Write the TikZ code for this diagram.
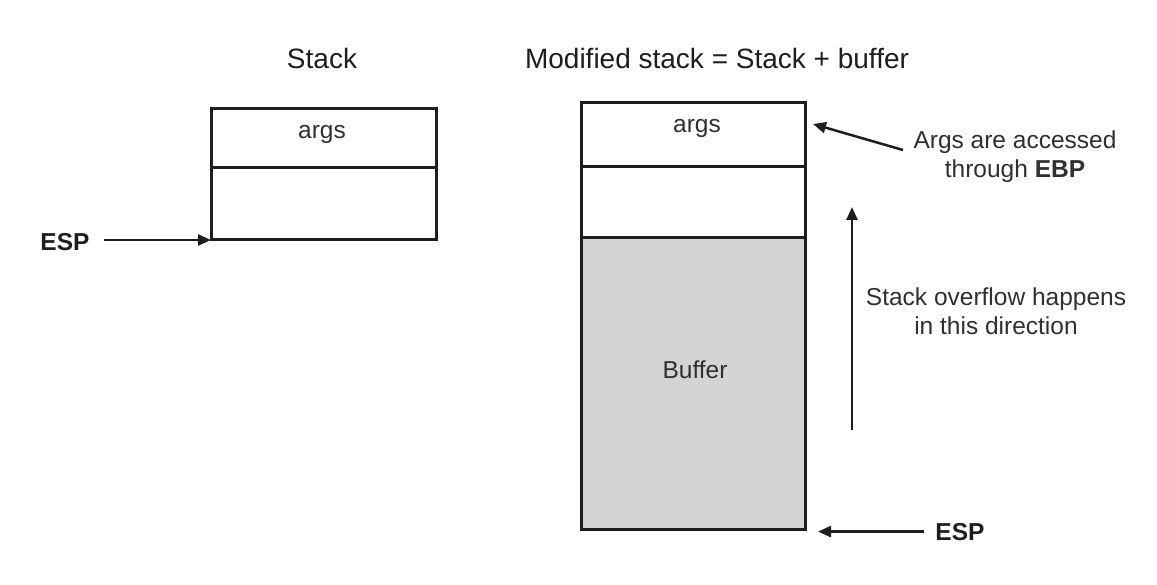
\documentclass[tikz,border=0pt]{standalone}
\usepackage{fontspec}
\setmainfont{Liberation Sans}
\usetikzlibrary{arrows.meta}
\definecolor{bufgray}{HTML}{D4D4D4}
\definecolor{ink}{HTML}{1E1E1E}
\definecolor{txt}{HTML}{303030}
\begin{document}
\begin{tikzpicture}[x=1pt,y=-1pt,
  cell/.style={draw=ink, line width=3pt, minimum width=225pt, inner sep=0pt, outer sep=0pt},
  lbl/.style={font=\fontsize{24.5}{29}\selectfont, text=txt, inner sep=0pt, anchor=base},
  note/.style={font=\fontsize{24.5}{29}\selectfont, text=txt, inner sep=0pt, align=center},
  ttl/.style={font=\fontsize{28}{32}\selectfont, text=ink, inner sep=0pt, anchor=base},
  reg/.style={font=\fontsize{24.5}{29}\selectfont\bfseries, text=ink, inner sep=0pt, anchor=base},
  arr/.style={line width=2.5pt, draw=ink, -{Triangle[length=13pt,width=11pt]}}]
\useasboundingbox (0,0) rectangle (1157,585);
\fill[white] (0,0) rectangle (1157,585);

% titles
\node[ttl] (h1) at (322,69) {Stack};
\node[ttl] (h2) at (717,69) {Modified stack = Stack + buffer};

% left stack
\node[cell, minimum height=59pt] (largs) at (323.5,138.5) {};
\node[cell, minimum height=72pt] (lbot) at (323.5,204) {};
\node[lbl] (t1) at (322,138.5) {args};

% right stack
\node[cell, minimum width=224pt, minimum height=64pt] (rargs) at (693,135) {};
\node[cell, minimum width=224pt, minimum height=71pt] (rmid) at (693,202.5) {};
\node[cell, minimum width=224pt, minimum height=291pt, fill=bufgray] (rbuf) at (693,383.5) {};
\node[lbl] (t2) at (697,133) {args};
\node[lbl] (t3) at (695,378) {Buffer};

% ESP labels
\node[reg] (espL) at (65,251) {ESP};
\node[reg] (espR) at (960,540) {ESP};

% notes
\node[note] (argsnote) at (1015,157) {Args are accessed\\through \textbf{EBP}};
\node[note] (ovnote) at (996,311.5) {Stack overflow happens\\in this direction};

% arrows
\path (espL.east) ++(14,0) coordinate (espLs);
\draw[arr] (espLs |- lbot.south west) -- (lbot.south west);

\path (espR.west) ++(-11,0) coordinate (espRs);
\path (rbuf.south east) ++(13,0) coordinate (rtip);
\draw[arr] (espRs) -- (espRs -| rtip);

\coordinate (aTail) at (903,150);
\coordinate (aTip) at (813,124);
\draw[arr] (aTail) -- (aTip);

\coordinate (up0) at (852,430);
\coordinate (up1) at (852,207);
\draw[arr] (up0) -- (up1);
\end{tikzpicture}
\end{document}
